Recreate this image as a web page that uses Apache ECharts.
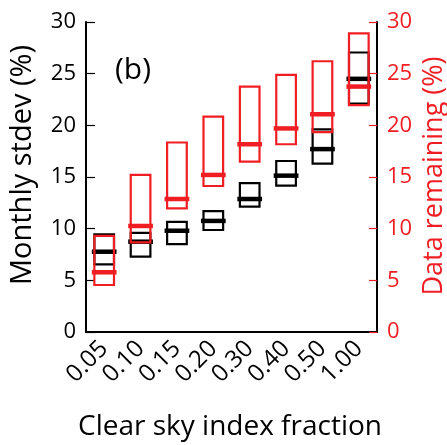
<!DOCTYPE html>
<html>
<head>
<meta charset="utf-8">
<script src="https://cdn.jsdelivr.net/npm/echarts@6/dist/echarts.min.js"></script>
<style>html,body{margin:0;padding:0;background:#fff}#c{width:447px;height:445px}</style>
</head>
<body>
<div id="c"></div>
<script>
var categories = ['0.05','0.10','0.15','0.20','0.30','0.40','0.50','1.00'];
// Monthly stdev (%) boxes: [q1, median, q3]
var stdevQ1  = [6.55, 7.3, 8.5, 9.87, 12.13, 14.16, 16.3, 22.1];
var stdevMed = [7.77, 8.74, 9.8, 10.75, 12.87, 15.13, 17.7, 24.5];
var stdevQ3  = [9.45, 9.6, 10.65, 11.7, 14.4, 16.55, 19.6, 27.05];
// Data remaining (%) boxes
var remQ1  = [4.55, 8.68, 11.97, 14.13, 16.49, 18.17, 19.35, 21.95];
var remMed = [5.78, 10.26, 12.87, 15.2, 18.17, 19.7, 21.07, 23.75];
var remQ3  = [9.3, 15.2, 18.34, 20.84, 23.75, 24.88, 26.2, 28.9];
var yTicks = [0, 5, 10, 15, 20, 25, 30];

var RED = '#f01e23';
var FONT = 'Open Sans';

function buildData(q1, med, q3) {
  return categories.map(function (c, i) { return [i, q1[i], med[i], q3[i]]; });
}
function makeRender(color) {
  return function (params, api) {
    var x = api.value(0);
    var pLo = api.coord([x, api.value(1)]);
    var pMed = api.coord([x, api.value(2)]);
    var pHi = api.coord([x, api.value(3)]);
    var band = api.size([1, 0])[0];
    var bw = band * 0.54, mw = band * 0.68;
    return {
      type: 'group',
      children: [
        { type: 'rect', shape: { x: pLo[0] - bw / 2, y: pHi[1], width: bw, height: pLo[1] - pHi[1] },
          style: { fill: 'none', stroke: color, lineWidth: 2.2 } },
        { type: 'line', shape: { x1: pMed[0] - mw / 2, y1: pMed[1], x2: pMed[0] + mw / 2, y2: pMed[1] },
          style: { stroke: color, lineWidth: 4.5 } }
      ]
    };
  };
}

var chart = echarts.init(document.getElementById('c'), null, { renderer: 'canvas' });
var yCommon = {
  type: 'value', min: 0, max: 30, interval: 5,
  splitLine: { show: false },
  axisLine: { show: true, lineStyle: { color: '#000', width: 2 } }
};
chart.setOption({
  backgroundColor: '#fff',
  animation: false,
  grid: { left: 86, right: 70, top: 22, bottom: 113, containLabel: false },
  xAxis: [
    { type: 'category', data: categories, boundaryGap: true, position: 'bottom',
      axisLine: { lineStyle: { color: '#000', width: 2 } },
      axisTick: { alignWithLabel: true, inside: true, length: 8, lineStyle: { color: '#000', width: 1.2 } },
      axisLabel: { rotate: 45, fontSize: 24, fontFamily: FONT, color: '#000', margin: 13, interval: 0 } },
    { type: 'category', data: categories, boundaryGap: true, position: 'top',
      axisLine: { lineStyle: { color: '#000', width: 2 } },
      axisTick: { alignWithLabel: true, inside: true, length: 8, lineStyle: { color: '#000', width: 1.2 } },
      axisLabel: { show: false } }
  ],
  yAxis: [
    Object.assign({}, yCommon, { position: 'left',
      axisTick: { show: true, inside: true, length: 9, lineStyle: { color: '#000', width: 1.2 } },
      axisLabel: { fontSize: 22, fontFamily: FONT, color: '#000', margin: 10 } }),
    Object.assign({}, yCommon, { position: 'right',
      axisTick: { show: true, inside: true, length: 8, lineStyle: { color: RED, width: 1.2 } },
      axisLabel: { fontSize: 22, fontFamily: FONT, color: RED, margin: 10 } })
  ],
  graphic: [
    { type: 'text', x: 23, y: 165, rotation: Math.PI / 2,
      style: { text: 'Monthly stdev (%)', font: '29px "Open Sans"', fill: '#000', textAlign: 'center', textVerticalAlign: 'middle' } },
    { type: 'text', x: 434, y: 176, rotation: Math.PI / 2,
      style: { text: 'Data remaining (%)', font: '27px "Open Sans"', fill: RED, textAlign: 'center', textVerticalAlign: 'middle' } },
    { type: 'text', x: 230, y: 427,
      style: { text: 'Clear sky index fraction', font: '28px "Open Sans"', fill: '#000', textAlign: 'center', textVerticalAlign: 'middle' } },
    { type: 'text', x: 115, y: 70,
      style: { text: '(b)', font: '30px "Open Sans"', fill: '#000', textAlign: 'left', textVerticalAlign: 'middle' } }
  ],
  series: [
    { type: 'custom', name: 'Monthly stdev', xAxisIndex: 0, yAxisIndex: 0,
      renderItem: makeRender('#000'), data: buildData(stdevQ1, stdevMed, stdevQ3),
      encode: { x: 0, y: [1, 2, 3] }, z: 2 },
    { type: 'custom', name: 'Data remaining', xAxisIndex: 0, yAxisIndex: 1,
      renderItem: makeRender(RED), data: buildData(remQ1, remMed, remQ3),
      encode: { x: 0, y: [1, 2, 3] }, z: 3 }
  ]
});
</script>
</body>
</html>
